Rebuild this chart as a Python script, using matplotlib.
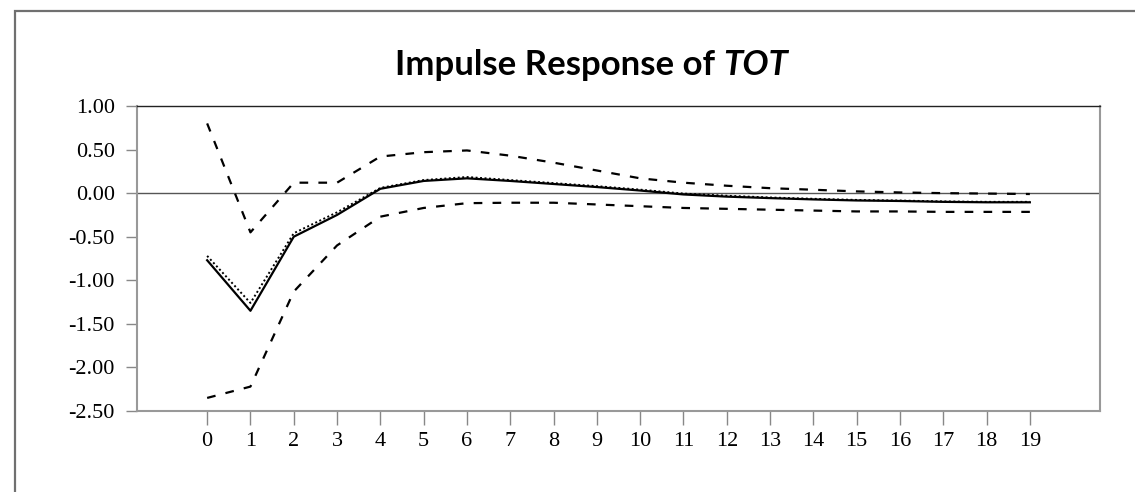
import numpy as np
import matplotlib
matplotlib.use("Agg")
import matplotlib.pyplot as plt
from matplotlib.patches import Rectangle

# impulse response of TOT, periods 0..19
periods = list(range(20))
response = [-0.77, -1.35, -0.50, -0.25, 0.05, 0.14, 0.17, 0.14, 0.105, 0.07,
            0.03, -0.015, -0.04, -0.057, -0.072, -0.084, -0.09, -0.10, -0.105, -0.105]
response_alt = [-0.72, -1.26, -0.46, -0.22, 0.06, 0.15, 0.185, 0.15, 0.115, 0.08,
                0.04, -0.005, -0.03, -0.05, -0.065, -0.078, -0.085, -0.095, -0.10, -0.10]
upper = [0.80, -0.45, 0.12, 0.12, 0.42, 0.47, 0.49, 0.43, 0.35, 0.26,
         0.17, 0.12, 0.085, 0.057, 0.039, 0.02, 0.008, 0.0, -0.005, -0.01]
lower = [-2.35, -2.22, -1.13, -0.60, -0.27, -0.17, -0.115, -0.11, -0.11, -0.13,
         -0.15, -0.17, -0.18, -0.19, -0.20, -0.21, -0.21, -0.215, -0.215, -0.215]
yticks = [1.0, 0.5, 0.0, -0.5, -1.0, -1.5, -2.0, -2.5]

fig = plt.figure(figsize=(11.35, 4.92), dpi=100)

# outer frame (cropped slide box)
fig.patches.append(Rectangle((15 / 1135, -0.1), 1.2, 1 - 11 / 492 + 0.1,
                             transform=fig.transFigure, fill=False,
                             edgecolor="#707070", lw=1.6))

ax = fig.add_axes([137 / 1135, 1 - 411 / 492, (1100 - 137) / 1135, (411 - 106) / 492])

ax.axhline(0, color="#555555", lw=1.0, zorder=1)
ax.plot(periods, upper, color="black", lw=1.6, ls=(0, (3.9, 4.6)))
ax.plot(periods, lower, color="black", lw=1.6, ls=(0, (3.9, 4.6)))
ax.plot(periods, response_alt, color="black", lw=1.4, ls=(0, (1, 1.3)))
ax.plot(periods, response, color="black", lw=1.6)

ax.set_xlim(-1.62, 20.62)
ax.set_ylim(-2.5, 1.0)
ax.set_xticks(periods)
ax.set_xticklabels([str(p) for p in periods])
ax.set_yticks(yticks)
ax.set_yticklabels(["%.2f" % v for v in yticks])

for lab in ax.get_xticklabels() + ax.get_yticklabels():
    lab.set_fontfamily("Liberation Serif")
    lab.set_fontsize(16)
ax.tick_params(axis="y", length=8, width=1.0, color="#888888", pad=8)
ax.tick_params(axis="x", length=10, width=1.0, color="#888888", pad=5)

ax.spines["top"].set_color("#222222")
ax.spines["top"].set_linewidth(1.0)
for s in ["left", "right", "bottom"]:
    ax.spines[s].set_color("#999999")
    ax.spines[s].set_linewidth(1.5)

# title: bold with bold-italic TOT
ty = 1 - 75 / 492
t1 = fig.text(395 / 1135, ty, "Impulse Response of ", fontfamily="Lato",
              fontweight="bold", fontsize=25, va="baseline", ha="left")
r = fig.canvas.get_renderer()
bb = t1.get_window_extent(renderer=r)
fig.text(bb.x1 / fig.bbox.width, ty, "TOT", fontfamily="Lato", fontweight="bold",
         fontstyle="italic", fontsize=25, va="baseline", ha="left")

fig.savefig("out.png", dpi=100)
